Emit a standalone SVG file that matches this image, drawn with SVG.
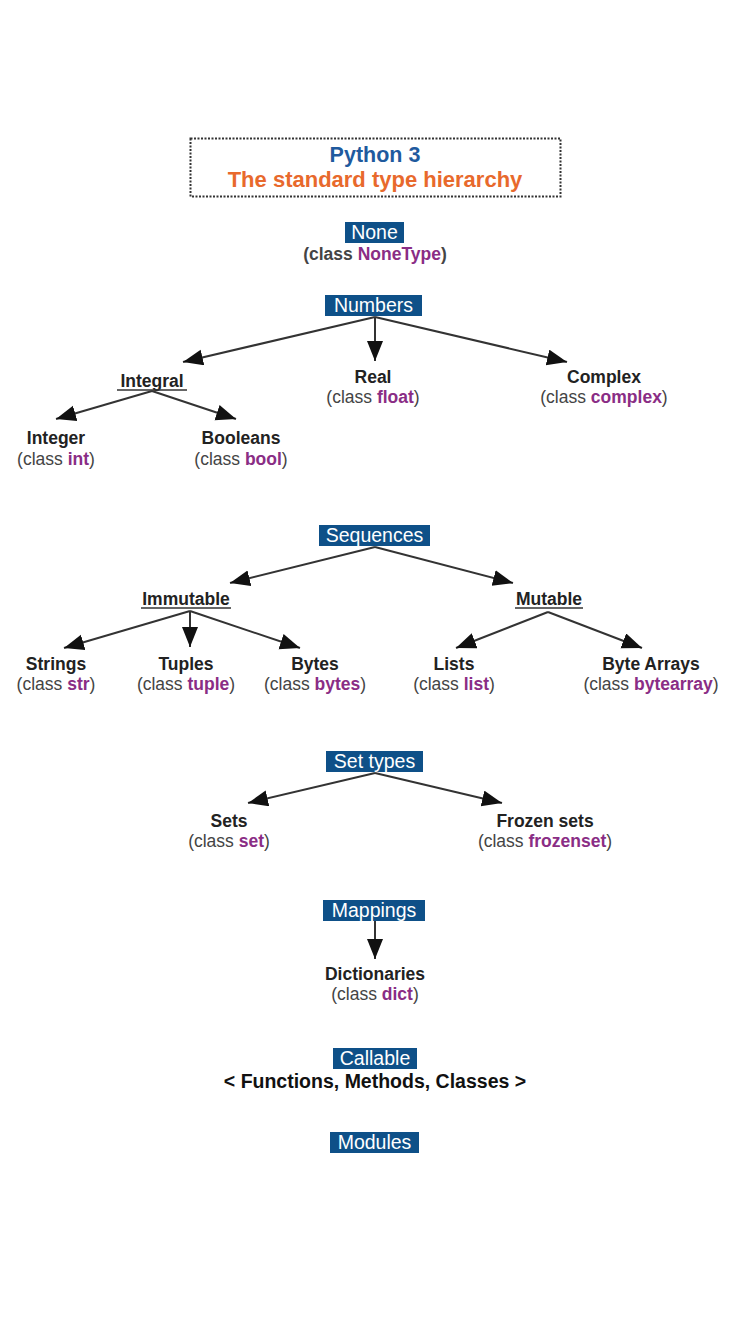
<svg xmlns="http://www.w3.org/2000/svg" width="750" height="1334" viewBox="0 0 750 1334">
<style>
text{font-family:"Liberation Sans",Arial,sans-serif;text-anchor:middle}
.box{fill:#0e5088}
.bl{fill:#fff;font-size:19.5px}
.nm{fill:#222;font-size:17.5px;font-weight:bold}
.cl{fill:#444;font-size:17.5px}
.cn{fill:#8a2d85;font-weight:bold}
.ul{stroke:#333;stroke-width:1.5}
.conn line{stroke:#333;stroke-width:2;marker-end:url(#ah)}
</style>
<defs>
<marker id="ah" markerUnits="userSpaceOnUse" markerWidth="22" markerHeight="18" refX="20" refY="8" orient="auto"><path d="M0,0 L20,8 L0,16 z" fill="#111"/></marker>
</defs>
<rect width="750" height="1334" fill="#fff"/>
<g id="title">
<rect x="190.5" y="138.5" width="370" height="58" fill="none" stroke="#333" stroke-width="2" stroke-dasharray="2,1.5"/>
<text x="375" y="162" style="font-size:21.5px;font-weight:bold;fill:#1f5a9e">Python 3</text>
<text x="375" y="187" style="font-size:22px;font-weight:bold;fill:#e8692c">The standard type hierarchy</text>
</g>
<g class="conn" id="connectors">
<line x1="375" y1="317" x2="183" y2="362"/>
<line x1="375" y1="317" x2="375" y2="361"/>
<line x1="375" y1="317" x2="567" y2="362"/>
<line x1="152" y1="391" x2="56" y2="419"/>
<line x1="152" y1="391" x2="236" y2="419"/>
<line x1="375" y1="547" x2="230" y2="583"/>
<line x1="375" y1="547" x2="513" y2="583"/>
<line x1="190" y1="611" x2="64" y2="648"/>
<line x1="190" y1="611" x2="190" y2="647"/>
<line x1="190" y1="611" x2="300" y2="648"/>
<line x1="548" y1="612" x2="456" y2="648"/>
<line x1="548" y1="612" x2="642" y2="648"/>
<line x1="375" y1="773" x2="248" y2="803"/>
<line x1="375" y1="773" x2="502" y2="803"/>
<line x1="375" y1="921" x2="375" y2="959"/>
</g>
<g id="none">
<rect class="box" x="345" y="222" width="59" height="21"/>
<text class="bl" x="374.5" y="239">None</text>
<text x="375" y="260" style="font-size:17.5px;font-weight:bold;fill:#444">(class <tspan class="cn">NoneType</tspan>)</text>
</g>
<g id="numbers">
<rect class="box" x="325" y="295" width="97" height="21"/>
<text class="bl" x="373.5" y="312">Numbers</text>
</g>
<g id="integral">
<text class="nm" x="152" y="387">Integral</text>
<line class="ul" x1="117" y1="390" x2="187" y2="390"/>
</g>
<g id="real">
<text class="nm" x="373" y="383">Real</text>
<text class="cl" x="373" y="403">(class <tspan class="cn">float</tspan>)</text>
</g>
<g id="complex">
<text class="nm" x="604" y="383">Complex</text>
<text class="cl" x="604" y="403">(class <tspan class="cn">complex</tspan>)</text>
</g>
<g id="integer">
<text class="nm" x="56" y="444">Integer</text>
<text class="cl" x="56" y="465">(class <tspan class="cn">int</tspan>)</text>
</g>
<g id="booleans">
<text class="nm" x="241" y="444">Booleans</text>
<text class="cl" x="241" y="465">(class <tspan class="cn">bool</tspan>)</text>
</g>
<g id="sequences">
<rect class="box" x="319" y="525" width="111" height="21"/>
<text class="bl" x="374.5" y="542">Sequences</text>
</g>
<g id="immutable">
<text class="nm" x="186" y="605">Immutable</text>
<line class="ul" x1="141" y1="608" x2="231" y2="608"/>
</g>
<g id="mutable">
<text class="nm" x="549" y="605">Mutable</text>
<line class="ul" x1="515" y1="608" x2="583" y2="608"/>
</g>
<g id="strings">
<text class="nm" x="56" y="670">Strings</text>
<text class="cl" x="56" y="690">(class <tspan class="cn">str</tspan>)</text>
</g>
<g id="tuples">
<text class="nm" x="186" y="670">Tuples</text>
<text class="cl" x="186" y="690">(class <tspan class="cn">tuple</tspan>)</text>
</g>
<g id="bytes">
<text class="nm" x="315" y="670">Bytes</text>
<text class="cl" x="315" y="690">(class <tspan class="cn">bytes</tspan>)</text>
</g>
<g id="lists">
<text class="nm" x="454" y="670">Lists</text>
<text class="cl" x="454" y="690">(class <tspan class="cn">list</tspan>)</text>
</g>
<g id="bytearrays">
<text class="nm" x="651" y="670">Byte Arrays</text>
<text class="cl" x="651" y="690">(class <tspan class="cn">bytearray</tspan>)</text>
</g>
<g id="settypes">
<rect class="box" x="326" y="751" width="97" height="21"/>
<text class="bl" x="374.5" y="768">Set types</text>
</g>
<g id="sets">
<text class="nm" x="229" y="827">Sets</text>
<text class="cl" x="229" y="847">(class <tspan class="cn">set</tspan>)</text>
</g>
<g id="frozensets">
<text class="nm" x="545" y="827">Frozen sets</text>
<text class="cl" x="545" y="847">(class <tspan class="cn">frozenset</tspan>)</text>
</g>
<g id="mappings">
<rect class="box" x="323" y="900" width="102" height="21"/>
<text class="bl" x="374" y="917">Mappings</text>
</g>
<g id="dictionaries">
<text class="nm" x="375" y="980">Dictionaries</text>
<text class="cl" x="375" y="1000">(class <tspan class="cn">dict</tspan>)</text>
</g>
<g id="callable">
<rect class="box" x="333" y="1048" width="84" height="21"/>
<text class="bl" x="375" y="1065">Callable</text>
<text x="375" y="1088" style="font-size:19.5px;font-weight:bold;fill:#111">&lt; Functions, Methods, Classes &gt;</text>
</g>
<g id="modules">
<rect class="box" x="330" y="1132" width="89" height="21"/>
<text class="bl" x="374.5" y="1149">Modules</text>
</g>
</svg>
